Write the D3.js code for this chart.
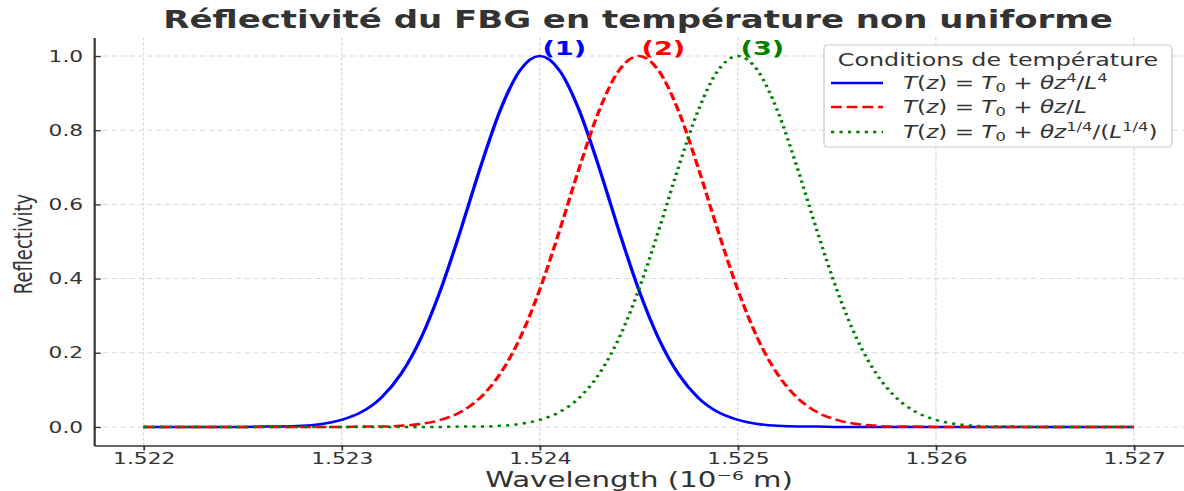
<!DOCTYPE html>
<html>
<head>
<meta charset="utf-8">
<script src="https://cdn.jsdelivr.net/npm/d3@7"></script>
<style>
  body { margin: 0; background: #fff; }
  text { font-family: "DejaVu Sans", sans-serif; }
</style>
</head>
<body>
<svg id="chart"></svg>
<script>
// wavelength grid (10^-6 m)
var wavelengths = [1.5220, 1.5221, 1.5222, 1.5223, 1.5224, 1.5225, 1.5226, 1.5227, 1.5228, 1.5229,
    1.5230, 1.5231, 1.5232, 1.5233, 1.5234, 1.5235, 1.5236, 1.5237, 1.5238, 1.5239,
    1.5240, 1.5241, 1.5242, 1.5243, 1.5244, 1.5245, 1.5246, 1.5247, 1.5248, 1.5249,
    1.5250, 1.5251, 1.5252, 1.5253, 1.5254, 1.5255, 1.5256, 1.5257, 1.5258, 1.5259,
    1.5260, 1.5261, 1.5262, 1.5263, 1.5264, 1.5265, 1.5266, 1.5267, 1.5268, 1.5269, 1.5270];

// reflectivity, one array per temperature profile
var refl1 = [0, 0, 0, 0, 0, 0, 0.001, 0.001, 0.003, 0.008,
    0.019, 0.040, 0.079, 0.143, 0.239, 0.370, 0.529, 0.699, 0.853, 0.961,
    1.000, 0.961, 0.853, 0.699, 0.529, 0.370, 0.239, 0.143, 0.079, 0.040,
    0.019, 0.008, 0.003, 0.001, 0.001, 0, 0, 0, 0, 0,
    0, 0, 0, 0, 0, 0, 0, 0, 0, 0, 0];
var refl2 = [0, 0, 0, 0, 0, 0, 0, 0, 0, 0,
    0, 0.001, 0.001, 0.003, 0.008, 0.019, 0.040, 0.079, 0.143, 0.239,
    0.370, 0.529, 0.699, 0.853, 0.961, 1.000, 0.961, 0.853, 0.699, 0.529,
    0.370, 0.239, 0.143, 0.079, 0.040, 0.019, 0.008, 0.003, 0.001, 0.001,
    0, 0, 0, 0, 0, 0, 0, 0, 0, 0, 0];
var refl3 = [0, 0, 0, 0, 0, 0, 0, 0, 0, 0,
    0, 0, 0, 0, 0, 0, 0.001, 0.001, 0.003, 0.008,
    0.019, 0.040, 0.079, 0.143, 0.239, 0.370, 0.529, 0.699, 0.853, 0.961,
    1.000, 0.961, 0.853, 0.699, 0.529, 0.370, 0.239, 0.143, 0.079, 0.040,
    0.019, 0.008, 0.003, 0.001, 0.001, 0, 0, 0, 0, 0, 0];

var peakLabels = ["(1)", "(2)", "(3)"];
var peakWavelengths = [1.524, 1.5245, 1.525];

var xTicks = [1.522, 1.523, 1.524, 1.525, 1.526, 1.527];
var yTicks = [0.0, 0.2, 0.4, 0.6, 0.8, 1.0];

var legendTitle = "Conditions de température";
// legend labels as pieces: [text, style]  i = italic, n = normal, sub, sup
var legendLabels = [
    [["T", "i"], ["(", "n"], ["z", "i"], [") = ", "n"], ["T", "i"], ["0", "sub"], [" + ", "n"], ["θz", "i"], ["4", "sup"], ["/", "n"], ["L", "i"], ["4", "sup"]],
    [["T", "i"], ["(", "n"], ["z", "i"], [") = ", "n"], ["T", "i"], ["0", "sub"], [" + ", "n"], ["θz", "i"], ["/", "n"], ["L", "i"]],
    [["T", "i"], ["(", "n"], ["z", "i"], [") = ", "n"], ["T", "i"], ["0", "sub"], [" + ", "n"], ["θz", "i"], ["1/4", "sup"], ["/(", "n"], ["L", "i"], ["1/4", "sup"], [")", "n"]]
];

var series = [
    { values: refl1, color: "#0000ff", dash: null },
    { values: refl2, color: "#ff0000", dash: "8,3.5" },
    { values: refl3, color: "#008000", dash: "2.4,3.8" }
];

// the picture is stretched sideways, so draw in a narrower box and stretch it
var W = 1184, H = 491;
var SX = 1.36;
var VW = W / SX;
function px(x) { return x / SX; }

var svg = d3.select("#chart")
    .attr("width", W)
    .attr("height", H)
    .attr("viewBox", "0 0 " + VW + " " + H)
    .attr("preserveAspectRatio", "none");

var x = d3.scaleLinear().domain([1.52175, 1.52725]).range([px(94), px(1183.5)]);
var y = d3.scaleLinear().domain([-0.05, 1.05]).range([445.5, 37.5]);

// grid
svg.append("g").selectAll("line")
    .data(xTicks)
    .enter().append("line")
    .attr("x1", function(d) { return x(d); })
    .attr("x2", function(d) { return x(d); })
    .attr("y1", y.range()[1])
    .attr("y2", y.range()[0])
    .style("stroke", "#d9d9d9")
    .style("stroke-width", 1)
    .style("stroke-dasharray", "3,2");

svg.append("g").selectAll("line")
    .data(yTicks)
    .enter().append("line")
    .attr("x1", x.range()[0])
    .attr("x2", x.range()[1])
    .attr("y1", function(d) { return y(d); })
    .attr("y2", function(d) { return y(d); })
    .style("stroke", "#d9d9d9")
    .style("stroke-width", 1)
    .style("stroke-dasharray", "4,2.5");

// axes
var xAxis = svg.append("g")
    .attr("transform", "translate(0," + y.range()[0] + ")")
    .call(d3.axisBottom(x).tickValues(xTicks).tickFormat(d3.format(".3f")).tickSize(5).tickSizeOuter(0).tickPadding(2));

var yAxis = svg.append("g")
    .attr("transform", "translate(" + x.range()[0] + ",0)")
    .call(d3.axisLeft(y).tickValues(yTicks).tickFormat(d3.format(".1f")).tickSize(-5).tickSizeOuter(0).tickPadding(8));

[xAxis, yAxis].forEach(function(g) {
    g.select(".domain").style("stroke", "#333").style("stroke-width", 1.6);
    g.selectAll(".tick line").style("stroke", "#333").style("stroke-width", 1.3);
    g.selectAll(".tick text")
        .style("font-family", "DejaVu Sans")
        .style("font-size", "16px")
        .style("fill", "#333");
});

// curves
var line = d3.line()
    .x(function(d, i) { return x(wavelengths[i]); })
    .y(function(d) { return y(d); })
    .curve(d3.curveMonotoneX);

series.forEach(function(s) {
    svg.append("path")
        .datum(s.values)
        .attr("d", line)
        .style("fill", "none")
        .style("stroke", s.color)
        .style("stroke-width", 2.5)
        .style("stroke-dasharray", s.dash);
});

// peak labels
svg.selectAll(".peak-label")
    .data(peakLabels)
    .enter().append("text")
    .attr("class", "peak-label")
    .attr("x", function(d, i) { return x(peakWavelengths[i]) + 2; })
    .attr("y", y(1.0) - 1)
    .style("font-size", "20px")
    .style("font-weight", "bold")
    .style("fill", function(d, i) { return series[i].color; })
    .text(function(d) { return d; });

// title and axis labels
svg.append("text")
    .attr("x", px(638))
    .attr("y", 28)
    .attr("text-anchor", "middle")
    .style("font-size", "25px")
    .style("font-weight", "bold")
    .style("fill", "#333")
    .text("Réflectivité du FBG en température non uniforme");

svg.append("text")
    .attr("x", px(639))
    .attr("y", 487)
    .attr("text-anchor", "middle")
    .style("font-size", "21.5px")
    .style("fill", "#333")
    .text("Wavelength (10⁻⁶ m)");

svg.append("text")
    .attr("transform", "translate(" + px(32) + ",244) rotate(-90)")
    .attr("text-anchor", "middle")
    .style("font-size", "18px")
    .style("fill", "#333")
    .text("Reflectivity");

// legend
var legend = svg.append("g");
legend.append("rect")
    .attr("x", px(824))
    .attr("y", 45)
    .attr("width", px(1172) - px(824))
    .attr("height", 102)
    .attr("rx", 3)
    .style("fill", "#fff")
    .style("fill-opacity", 0.85)
    .style("stroke", "#ccc")
    .style("stroke-width", 1);

legend.append("text")
    .attr("x", px(998))
    .attr("y", 66)
    .attr("text-anchor", "middle")
    .style("font-size", "17.5px")
    .style("fill", "#333")
    .text(legendTitle);

var rowY = [83, 107, 132];
legendLabels.forEach(function(parts, i) {
    legend.append("line")
        .attr("x1", px(831))
        .attr("x2", px(883))
        .attr("y1", rowY[i])
        .attr("y2", rowY[i])
        .style("stroke", series[i].color)
        .style("stroke-width", 2.5)
        .style("stroke-dasharray", series[i].dash);

    var t = legend.append("text")
        .attr("x", px(903))
        .attr("y", rowY[i] + 6)
        .style("font-size", "17px")
        .style("fill", "#333");
    var shift = 0;
    parts.forEach(function(p) {
        var target = p[1] === "sup" ? -7 : p[1] === "sub" ? 3 : 0;
        t.append("tspan")
            .attr("dy", target - shift)
            .style("font-style", p[1] === "i" ? "italic" : "normal")
            .style("font-size", p[1] === "sup" || p[1] === "sub" ? "12px" : "17px")
            .text(p[0]);
        shift = target;
    });
});
</script>
</body>
</html>
